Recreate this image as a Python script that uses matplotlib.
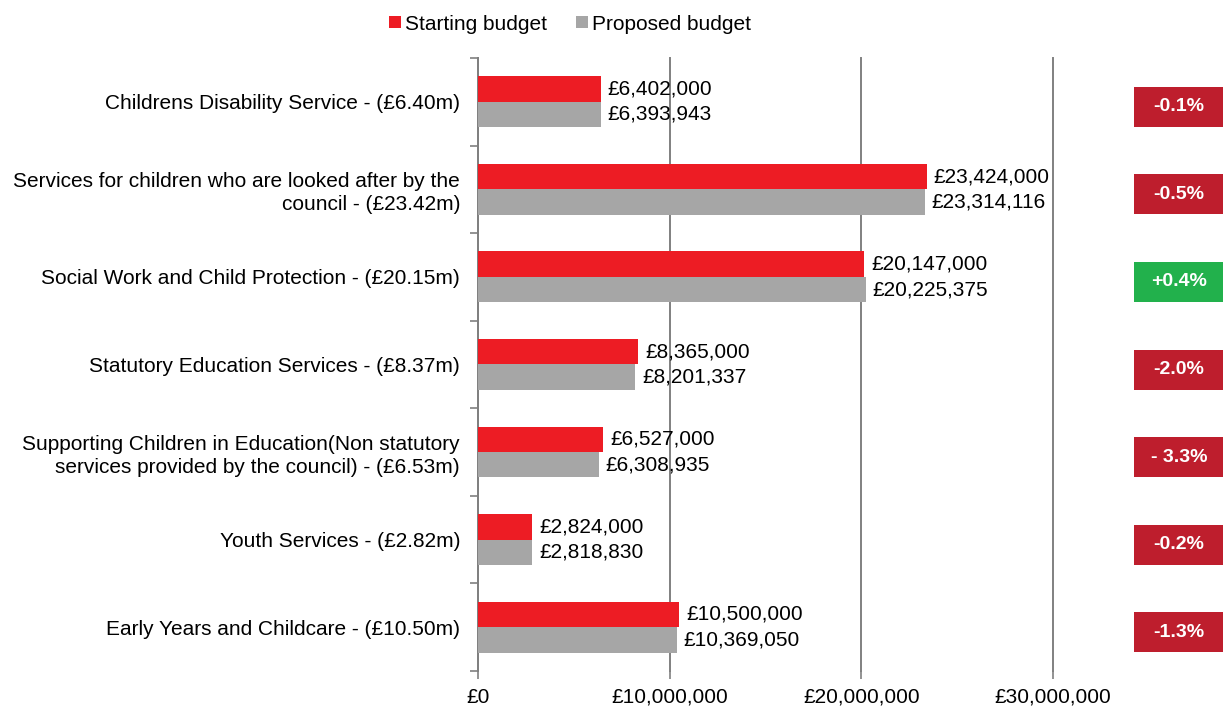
import matplotlib.pyplot as plt
from matplotlib.patches import Rectangle
from matplotlib.transforms import blended_transform_factory
import numpy as np

plt.rcParams['font.family'] = ['Liberation Sans', 'DejaVu Sans']

# data
categories = [
    "Childrens Disability Service - (£6.40m)",
    "Services for children who are looked after by the\ncouncil - (£23.42m)",
    "Social Work and Child Protection - (£20.15m)",
    "Statutory Education Services - (£8.37m)",
    "Supporting Children in Education(Non statutory\nservices provided by the council) - (£6.53m)",
    "Youth Services - (£2.82m)",
    "Early Years and Childcare - (£10.50m)",
]
starting = [6402000, 23424000, 20147000, 8365000, 6527000, 2824000, 10500000]
proposed = [6393943, 23314116, 20225375, 8201337, 6308935, 2818830, 10369050]
changes = ["-0.1%", "-0.5%", "+0.4%", "-2.0%", "- 3.3%", "-0.2%", "-1.3%"]
x_ticks = [0, 10000000, 20000000, 30000000]

red = '#ED1C24'
grey = '#A6A6A6'
badge_red = '#BE1E2D'
badge_green = '#22B14C'
fs = 15

fig = plt.figure(figsize=(12.26, 7.07), dpi=100)
ax = fig.add_axes([0.390, 0.051, 0.469, 0.867])

y = np.arange(len(categories))
h = 0.29
ax.barh(y - h / 2, starting, height=h, color=red, label='Starting budget', zorder=3)
ax.barh(y + h / 2, proposed, height=h, color=grey, label='Proposed budget', zorder=3)

for i in range(len(categories)):
    ax.text(starting[i] + 350000, y[i] - h / 2, f"£{starting[i]:,}",
            va='center', ha='left', fontsize=fs)
    ax.text(proposed[i] + 350000, y[i] + h / 2, f"£{proposed[i]:,}",
            va='center', ha='left', fontsize=fs)

ax.set_xlim(0, 30000000)
ax.set_ylim(len(categories) - 0.5, -0.5)
ax.set_xticks(x_ticks)
ax.set_xticklabels([f"£{v:,}" for v in x_ticks], fontsize=fs)
ax.set_yticks(y)
ax.set_yticklabels(categories, fontsize=fs, linespacing=1.25)
ax.tick_params(axis='y', length=0, pad=13)
ax.set_yticks(np.arange(-0.5, len(categories) + 0.5, 1), minor=True)
ax.tick_params(axis='y', which='minor', length=6, color='#808080', width=1.2)
ax.tick_params(axis='x', length=6, color='#808080', width=1.2, pad=6)

ax.grid(axis='x', color='#808080', linewidth=1.4, zorder=0)
for gl in ax.get_xgridlines():
    gl.set_clip_on(False)
for s in ['top', 'right', 'bottom']:
    ax.spines[s].set_visible(False)
ax.spines['left'].set_color('#808080')
ax.spines['left'].set_linewidth(1.4)

# change badges
tr = blended_transform_factory(ax.transAxes, ax.transData)
for i, c in enumerate(changes):
    col = badge_green if c.startswith('+') else badge_red
    ax.add_patch(Rectangle((1.141, y[i] - 0.17), 0.155, 0.457, transform=tr,
                           facecolor=col, edgecolor='none', clip_on=False))
    ax.text(1.2185, y[i] + 0.058, c, transform=tr, ha='center', va='center',
            color='white', fontsize=14, fontweight='bold')

fig.legend(loc='upper center', bbox_to_anchor=(0.465, 1.006), ncol=2, frameon=False,
           fontsize=fs, handlelength=0.55, handleheight=0.55, handletextpad=0.2,
           columnspacing=1.4)

plt.savefig('out.png', dpi=100)
